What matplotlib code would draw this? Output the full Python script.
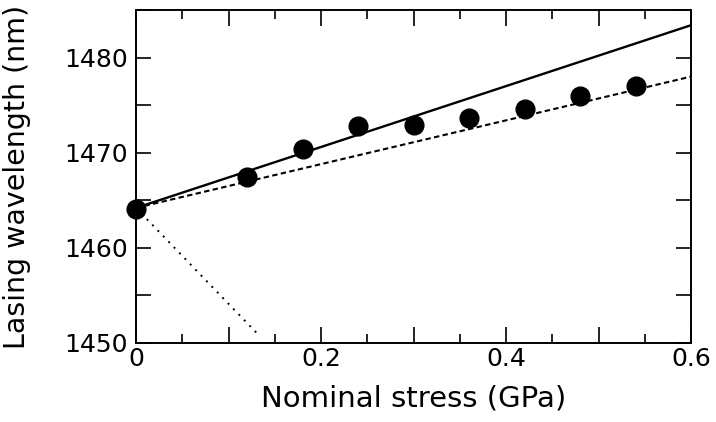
import matplotlib
matplotlib.use('Agg')
import matplotlib.pyplot as plt
from matplotlib.ticker import MultipleLocator, FixedFormatter, FixedLocator

plt.rcParams['font.family'] = ['DejaVu Sans']

# Measured lasing wavelength vs stress
stress = [0, 0.12, 0.18, 0.24, 0.30, 0.36, 0.42, 0.48, 0.54]
wavelength = [1464.1, 1467.4, 1470.4, 1472.8, 1472.9, 1473.7, 1474.6, 1476.0, 1477.0]

# Model lines (end points)
solid_x = [0, 0.6]
solid_y = [1464.2, 1483.4]
dashed_x = [0, 0.6]
dashed_y = [1464.2, 1478.0]
dotted_x = [0, 0.134]
dotted_y = [1464.2, 1450.7]

fig = plt.figure(figsize=(7.16, 4.22), dpi=100)
ax = fig.add_axes([136 / 716, 1 - 343 / 422, 555 / 716, 333 / 422])

ax.plot(solid_x, solid_y, color='black', lw=1.7)
ax.plot(dashed_x, dashed_y, color='black', lw=1.5, linestyle=(0, (2.6, 1.6)))
ax.plot(dotted_x, dotted_y, color='black', lw=1.4, linestyle=(0, (1, 3)))
ax.plot(stress, wavelength, 'o', color='black', markersize=13.5, zorder=5, clip_on=False)

ax.set_xlim(0, 0.6)
ax.set_ylim(1450, 1485)

xt = [0, 0.1, 0.2, 0.3, 0.4, 0.5, 0.6]
ax.xaxis.set_major_locator(FixedLocator(xt))
ax.xaxis.set_major_formatter(FixedFormatter(['0', '', '0.2', '', '0.4', '', '0.6']))
ax.xaxis.set_minor_locator(MultipleLocator(0.05))
ax.yaxis.set_major_locator(MultipleLocator(10))
ax.yaxis.set_minor_locator(MultipleLocator(5))

ax.tick_params(which='both', direction='in', top=True, right=True, width=1.2,
               labelsize=18, color='black')
ax.tick_params(axis='x', which='major', length=11.5, pad=3)
ax.tick_params(axis='x', which='minor', length=6.5)
ax.tick_params(axis='y', which='both', length=11, pad=6)

for s in ax.spines.values():
    s.set_linewidth(1.4)

ax.set_xlabel('Nominal stress (GPa)', fontsize=21)
ax.set_ylabel('Lasing wavelength (nm)', fontsize=20.5)
ax.xaxis.set_label_coords(0.5, -0.125)
ax.yaxis.set_label_coords(-0.19, 0.5)

fig.savefig('out.png', dpi=100)
